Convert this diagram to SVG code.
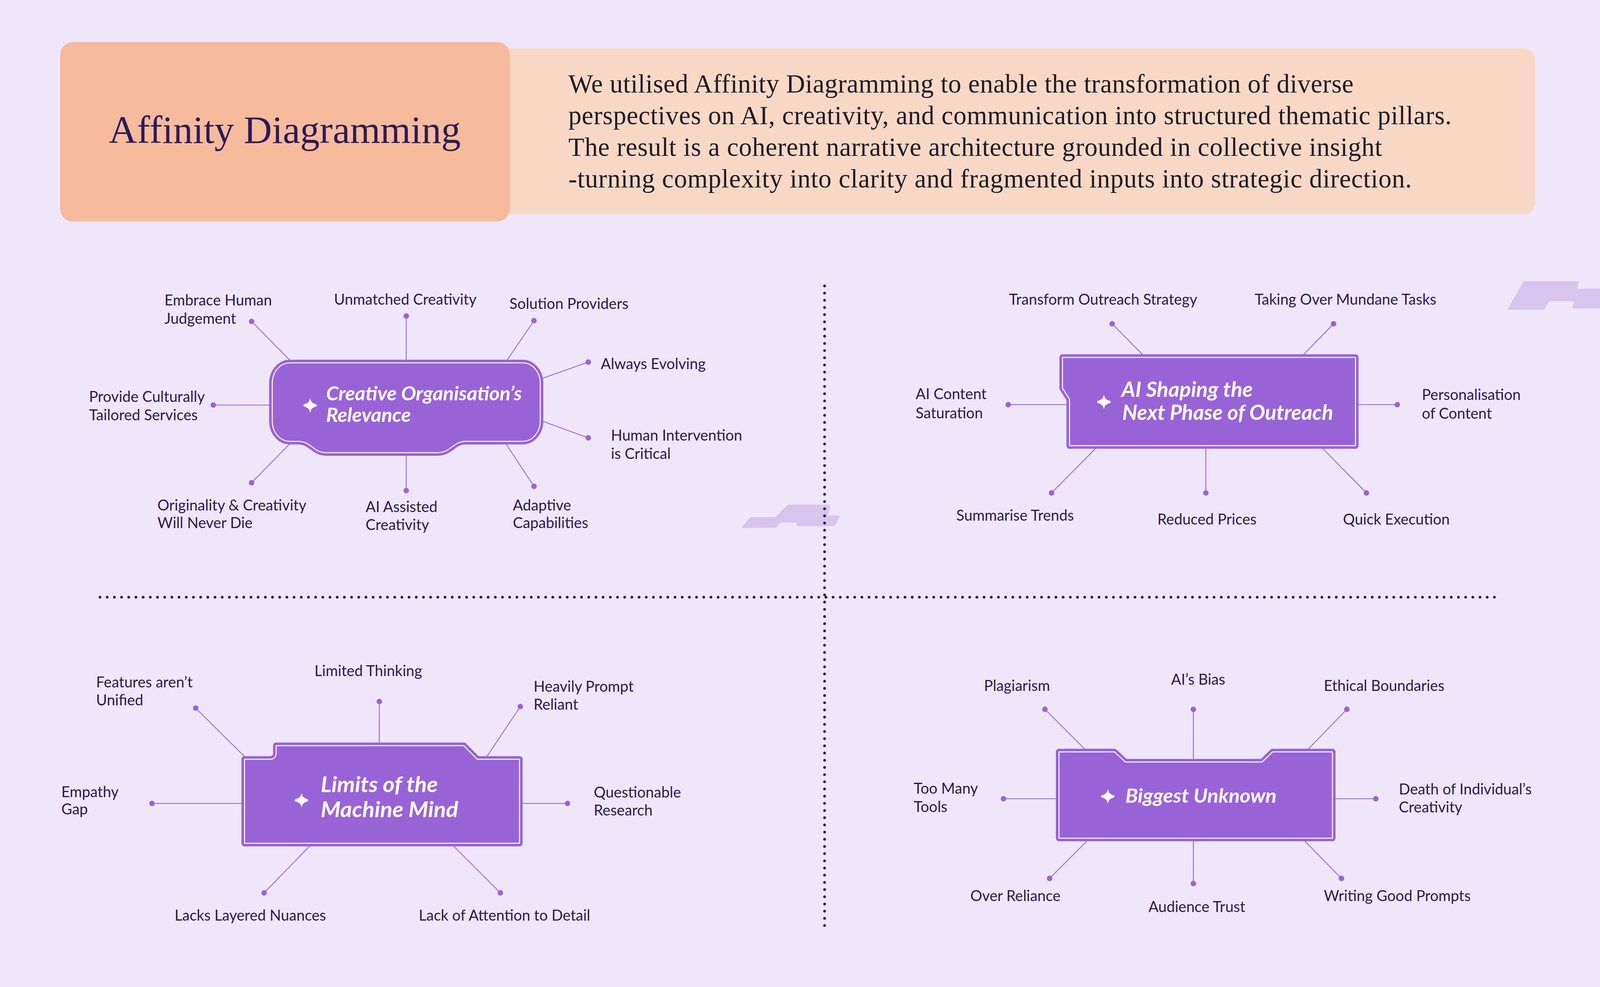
<svg xmlns="http://www.w3.org/2000/svg" width="4097" height="2527" viewBox="0 0 4097 2527">
<style>
.lbl{font-family:Lato,"Open Sans","Liberation Sans",sans-serif;font-size:38px;fill:#2B1A4F}
.ttl{font-family:Lato,"Open Sans","Liberation Sans",sans-serif;font-style:italic;font-weight:700;fill:#FFFFFF}
.body{font-family:"Liberation Serif","DejaVu Serif",serif;font-size:67px;fill:#1E1B26}
.con line{stroke:#9963D8;stroke-width:2.2}
.con circle{fill:#9963D8}
.nfill{fill:#9963D8;stroke:#9963D8;stroke-width:16;stroke-linejoin:round}
.nline{fill:none;stroke:#FFFFFF;stroke-width:2.5;stroke-linejoin:round}
.deco{fill:#D7C5EE;stroke:#D7C5EE;stroke-width:4;stroke-linejoin:round}
.div{stroke:#2A1A4A;stroke-width:7;stroke-linecap:round;stroke-dasharray:0 18.4;fill:none}
</style>
<defs>
<path id="star" d="M0,-19 C2,-9 5,-6 15,-3 C18,-2 18,2 15,3 C5,6 2,9 0,19 C-2,9 -5,6 -15,3 C-18,2 -18,-2 -15,-3 C-5,-6 -2,-9 0,-19 Z" fill="#FFFFFF"/>
</defs>
<rect x="0" y="0" width="4097" height="2527" fill="#EFE6FA"/>

<g id="header">
<rect x="1250" y="124" width="2680" height="425" rx="28" fill="#F8D8C5"/>
<rect x="154" y="108" width="1151" height="459" rx="32" fill="#F5BB9C"/>
<text x="729" y="366" text-anchor="middle" font-family="'Liberation Serif','DejaVu Serif',serif" font-size="100" fill="#2E1A57">Affinity Diagramming</text>
<text class="body" x="1455" y="237" textLength="2010" lengthAdjust="spacing">We utilised Affinity Diagramming to enable the transformation of diverse</text>
<text class="body" x="1455" y="318" textLength="2261" lengthAdjust="spacing">perspectives on AI, creativity, and communication into structured thematic pillars.</text>
<text class="body" x="1455" y="399" textLength="2083" lengthAdjust="spacing">The result is a coherent narrative architecture grounded in collective insight</text>
<text class="body" x="1455" y="480" textLength="2159" lengthAdjust="spacing">-turning complexity into clarity and fragmented inputs into strategic direction.</text>
</g>

<g id="decorations">
<path class="deco" d="M3902,722 H4040 L4035,741 H4097 V788 H4027 L4033,769 H3964 L3952,791 H3862 Z"/>
<path class="deco" d="M2018,1294 H2124 L2117,1322 H2148 L2135,1345 H2042 L2041,1336 H1998 L1985,1349 L1901,1350 L1922,1326 H1986 Z"/>
</g>

<g id="dividers">
<line class="div" x1="2111" y1="732" x2="2111" y2="2373"/>
<line class="div" x1="256" y1="1529" x2="3836" y2="1529"/>
</g>

<g id="connectors" class="con">
<line x1="644" y1="823" x2="745" y2="925"/><circle cx="644" cy="823" r="7"/>
<line x1="1040" y1="809" x2="1040" y2="925"/><circle cx="1040" cy="809" r="7"/>
<line x1="1367" y1="821" x2="1296" y2="925"/><circle cx="1367" cy="821" r="7"/>
<line x1="1506" y1="927" x2="1385" y2="970"/><circle cx="1506" cy="927" r="7"/>
<line x1="546" y1="1037" x2="695" y2="1037"/><circle cx="546" cy="1037" r="7"/>
<line x1="1506" y1="1121" x2="1385" y2="1077"/><circle cx="1506" cy="1121" r="7"/>
<line x1="644" y1="1236" x2="745" y2="1133"/><circle cx="644" cy="1236" r="7"/>
<line x1="1040" y1="1256" x2="1040" y2="1160"/><circle cx="1040" cy="1256" r="7"/>
<line x1="1367" y1="1245" x2="1293" y2="1133"/><circle cx="1367" cy="1245" r="7"/>

<line x1="2847" y1="829" x2="2928" y2="911"/><circle cx="2847" cy="829" r="7"/>
<line x1="3414" y1="829" x2="3334" y2="911"/><circle cx="3414" cy="829" r="7"/>
<line x1="2581" y1="1036" x2="2735" y2="1036"/><circle cx="2581" cy="1036" r="7"/>
<line x1="3577" y1="1036" x2="3472" y2="1036"/><circle cx="3577" cy="1036" r="7"/>
<line x1="2692" y1="1262" x2="2808" y2="1145"/><circle cx="2692" cy="1262" r="7"/>
<line x1="3087" y1="1262" x2="3087" y2="1145"/><circle cx="3087" cy="1262" r="7"/>
<line x1="3498" y1="1262" x2="3383" y2="1145"/><circle cx="3498" cy="1262" r="7"/>

<line x1="501" y1="1813" x2="628" y2="1939"/><circle cx="501" cy="1813" r="7"/>
<line x1="971" y1="1796" x2="971" y2="1905"/><circle cx="971" cy="1796" r="7"/>
<line x1="1332" y1="1809" x2="1245" y2="1939"/><circle cx="1332" cy="1809" r="7"/>
<line x1="389" y1="2057" x2="622" y2="2057"/><circle cx="389" cy="2057" r="7"/>
<line x1="1453" y1="2057" x2="1333" y2="2057"/><circle cx="1453" cy="2057" r="7"/>
<line x1="676" y1="2286" x2="795" y2="2164"/><circle cx="676" cy="2286" r="7"/>
<line x1="1281" y1="2286" x2="1159" y2="2164"/><circle cx="1281" cy="2286" r="7"/>

<line x1="2675" y1="1816" x2="2779" y2="1920"/><circle cx="2675" cy="1816" r="7"/>
<line x1="3055" y1="1816" x2="3055" y2="1946"/><circle cx="3055" cy="1816" r="7"/>
<line x1="3448" y1="1816" x2="3347" y2="1920"/><circle cx="3448" cy="1816" r="7"/>
<line x1="2569" y1="2045" x2="2707" y2="2045"/><circle cx="2569" cy="2045" r="7"/>
<line x1="3522" y1="2045" x2="3415" y2="2045"/><circle cx="3522" cy="2045" r="7"/>
<line x1="2687" y1="2249" x2="2785" y2="2151"/><circle cx="2687" cy="2249" r="7"/>
<line x1="3055" y1="2262" x2="3055" y2="2151"/><circle cx="3055" cy="2262" r="7"/>
<line x1="3434" y1="2249" x2="3338" y2="2151"/><circle cx="3434" cy="2249" r="7"/>
</g>

<g id="node-creative">
<path class="nfill" d="M742,929 H1338 A45 52 0 0 1 1383,981 V1078 A45 52 0 0 1 1338,1130 H1192 C1160,1130 1154,1159 1120,1159 H836 C802,1159 796,1130 764,1130 H742 A45 52 0 0 1 697,1078 V981 A45 52 0 0 1 742,929 Z"/>
<path class="nline" d="M742,929 H1338 A45 52 0 0 1 1383,981 V1078 A45 52 0 0 1 1338,1130 H1192 C1160,1130 1154,1159 1120,1159 H836 C802,1159 796,1130 764,1130 H742 A45 52 0 0 1 697,1078 V981 A45 52 0 0 1 742,929 Z"/>
<use href="#star" transform="translate(794,1038)"/>
<text class="ttl" font-size="49" x="835" y="1025" textLength="501" lengthAdjust="spacingAndGlyphs">Creative Organisation’s</text>
<text class="ttl" font-size="49" x="835" y="1080" textLength="217" lengthAdjust="spacingAndGlyphs">Relevance</text>
</g>

<g id="node-outreach">
<path class="nfill" d="M2720,915 H3470 V1141 H2738 V1022 L2720,994 Z"/>
<path class="nline" d="M2720,915 H3470 V1141 H2738 V1022 L2720,994 Z"/>
<use href="#star" transform="translate(2826,1029)"/>
<text class="ttl" font-size="53" x="2871" y="1016" textLength="336" lengthAdjust="spacingAndGlyphs">AI Shaping the</text>
<text class="ttl" font-size="53" x="2873" y="1075" textLength="540" lengthAdjust="spacingAndGlyphs">Next Phase of Outreach</text>
</g>

<g id="node-limits">
<path class="nfill" d="M626,1944 H690 Q707,1944 707,1927 V1909 H1187 L1222,1944 H1330 V2159 H626 Z"/>
<path class="nline" d="M626,1944 H690 Q707,1944 707,1927 V1909 H1187 L1222,1944 H1330 V2159 H626 Z"/>
<use href="#star" transform="translate(772,2049)"/>
<text class="ttl" font-size="56" x="821" y="2028" textLength="300" lengthAdjust="spacingAndGlyphs">Limits of the</text>
<text class="ttl" font-size="56" x="821" y="2092" textLength="352" lengthAdjust="spacingAndGlyphs">Machine Mind</text>
</g>

<g id="node-unknown">
<path class="nfill" d="M2711,1925 H2853 L2881,1951 H3231 L3258,1925 H3411 V2146 H2711 Z"/>
<path class="nline" d="M2711,1925 H2853 L2881,1951 H3231 L3258,1925 H3411 V2146 H2711 Z"/>
<use href="#star" transform="translate(2836,2039)"/>
<text class="ttl" font-size="50" x="2881" y="2055" textLength="387" lengthAdjust="spacingAndGlyphs">Biggest Unknown</text>
</g>

<g id="labels-creative">
<text class="lbl" x="421" y="782">Embrace Human<tspan x="421" y="829">Judgement</tspan></text>
<text class="lbl" x="855" y="780">Unmatched Creativity</text>
<text class="lbl" x="1304" y="791">Solution Providers</text>
<text class="lbl" x="1538" y="945">Always Evolving</text>
<text class="lbl" x="228" y="1029">Provide Culturally<tspan x="228" y="1076">Tailored Services</tspan></text>
<text class="lbl" x="1564" y="1128">Human Intervention<tspan x="1564" y="1175">is Critical</tspan></text>
<text class="lbl" x="403" y="1307">Originality &amp; Creativity<tspan x="403" y="1352">Will Never Die</tspan></text>
<text class="lbl" x="936" y="1311">AI Assisted<tspan x="936" y="1357">Creativity</tspan></text>
<text class="lbl" x="1313" y="1307">Adaptive<tspan x="1313" y="1352">Capabilities</tspan></text>
</g>

<g id="labels-outreach">
<text class="lbl" x="2583" y="780">Transform Outreach Strategy</text>
<text class="lbl" x="3212" y="780">Taking Over Mundane Tasks</text>
<text class="lbl" x="2344" y="1022">AI Content<tspan x="2344" y="1071">Saturation</tspan></text>
<text class="lbl" x="3640" y="1024">Personalisation<tspan x="3640" y="1072">of Content</tspan></text>
<text class="lbl" x="2448" y="1333">Summarise Trends</text>
<text class="lbl" x="2963" y="1343">Reduced Prices</text>
<text class="lbl" x="3438" y="1343">Quick Execution</text>
</g>

<g id="labels-limits">
<text class="lbl" x="246" y="1760">Features aren’t<tspan x="246" y="1806">Unified</tspan></text>
<text class="lbl" x="805" y="1731">Limited Thinking</text>
<text class="lbl" x="1366" y="1771">Heavily Prompt<tspan x="1366" y="1817">Reliant</tspan></text>
<text class="lbl" x="157" y="2041">Empathy<tspan x="157" y="2085">Gap</tspan></text>
<text class="lbl" x="1520" y="2042">Questionable<tspan x="1520" y="2088">Research</tspan></text>
<text class="lbl" x="447" y="2357">Lacks Layered Nuances</text>
<text class="lbl" x="1072" y="2357">Lack of Attention to Detail</text>
</g>

<g id="labels-unknown">
<text class="lbl" x="2519" y="1769">Plagiarism</text>
<text class="lbl" x="2998" y="1753">AI’s Bias</text>
<text class="lbl" x="3389" y="1769">Ethical Boundaries</text>
<text class="lbl" x="2339" y="2032">Too Many<tspan x="2339" y="2079">Tools</tspan></text>
<text class="lbl" x="3581" y="2034">Death of Individual’s<tspan x="3581" y="2080">Creativity</tspan></text>
<text class="lbl" x="2484" y="2307">Over Reliance</text>
<text class="lbl" x="2940" y="2335">Audience Trust</text>
<text class="lbl" x="3389" y="2307">Writing Good Prompts</text>
</g>
</svg>
